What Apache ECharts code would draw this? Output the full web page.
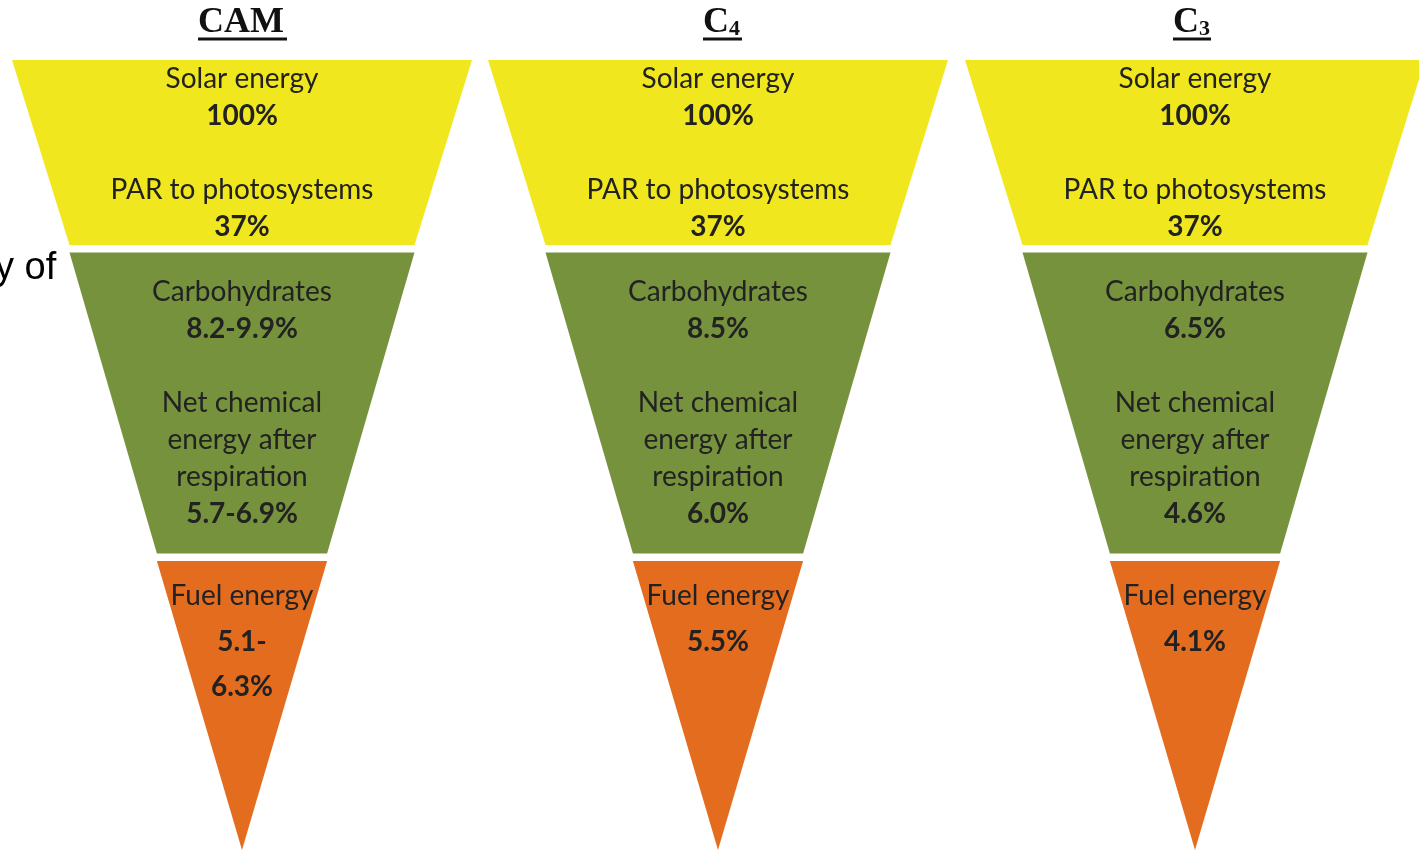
<!DOCTYPE html>
<html>
<head>
<meta charset="utf-8">
<script src="https://cdn.jsdelivr.net/npm/echarts@6/dist/echarts.min.js"></script>
<style>
  html, body { margin: 0; padding: 0; background: #fff; }
  #chart { width: 1419px; height: 851px; }
</style>
</head>
<body>
<div id="chart"></div>
<script>
// photosynthetic pathways (title + subscript)
const pathwayMain = ['CAM', 'C', 'C'];
const pathwaySub = ['', '4', '3'];
// relative width of each band at its top edge (% of funnel top)
const bandWidths = [100, 75, 37];
// figures shown in each funnel
const solarEnergy = ['100%', '100%', '100%'];
const parToPhotosystems = ['37%', '37%', '37%'];
const carbohydrates = ['8.2-9.9%', '8.5%', '6.5%'];
const netChemical = ['5.7-6.9%', '6.0%', '4.6%'];
const fuelEnergy = [['5.1-', '6.3%'], ['5.5%'], ['4.1%']];

const YELLOW = '#f0e71e';
const GREEN = '#76923c';
const ORANGE = '#e46c1f';
const TEXT = '#222';
const FONT = 'Lato, "Open Sans", sans-serif';

const chart = echarts.init(document.getElementById('chart'));

const richText = {
  n: { fontFamily: FONT, fontSize: 28, color: TEXT, lineHeight: 37 },
  b: { fontFamily: FONT, fontSize: 28, fontWeight: 'bold', color: TEXT, lineHeight: 37 },
  o: { fontFamily: FONT, fontSize: 28, color: TEXT, lineHeight: 45.5 },
  ob: { fontFamily: FONT, fontSize: 28, fontWeight: 'bold', color: TEXT, lineHeight: 45.5 }
};

const funnelLefts = [12, 488, 965];

function buildFunnel(i) {
  const fuelLines = ['{o|Fuel energy}'].concat(fuelEnergy[i].map(v => '{ob|' + v + '}'));
  return {
    type: 'funnel',
    left: funnelLefts[i],
    top: 60,
    width: 460,
    height: 790,
    min: 0,
    max: 100,
    minSize: '0%',
    maxSize: '100%',
    sort: 'none',
    gap: 7.5,
    funnelAlign: 'center',
    silent: true,
    labelLine: { show: false },
    itemStyle: { borderWidth: 0 },
    label: {
      show: true,
      position: 'inside',
      color: TEXT,
      fontFamily: FONT,
      fontSize: 28,
      lineHeight: 37,
      rich: richText
    },
    data: [
      {
        name: 'Solar',
        value: bandWidths[0],
        itemStyle: { color: YELLOW, height: 185 },
        label: {
          formatter: [
            '{n|Solar energy}',
            '{b|' + solarEnergy[i] + '}',
            '{n| }',
            '{n|PAR to photosystems}',
            '{b|' + parToPhotosystems[i] + '}'
          ].join('\n')
        }
      },
      {
        name: 'Chemical',
        value: bandWidths[1],
        itemStyle: { color: GREEN, height: 301 },
        label: {
          formatter: [
            '{n|Carbohydrates}',
            '{b|' + carbohydrates[i] + '}',
            '{n| }',
            '{n|Net chemical}',
            '{n|energy after}',
            '{n|respiration}',
            '{b|' + netChemical[i] + '}'
          ].join('\n')
        }
      },
      {
        name: 'Fuel',
        value: bandWidths[2],
        itemStyle: { color: ORANGE, height: 289 },
        label: {
          lineHeight: 45.5,
          // push the text block towards the top of the cone
          padding: [0, 0, 219 - (fuelLines.length - 1) * 45.5, 0],
          formatter: fuelLines.join('\n')
        }
      }
    ]
  };
}

// titles drawn as text + underline
const titleGraphics = [];
const titleLeft = [198, 703, 1173];
const titleRight = [287, 742, 1211];
pathwayMain.forEach((t, i) => {
  titleGraphics.push({
    type: 'text',
    left: titleLeft[i],
    top: 5,
    style: {
      text: t,
      fontFamily: '"Liberation Serif", "Times New Roman", serif',
      fontWeight: 'bold',
      fontSize: 36,
      fill: '#111'
    }
  });
  if (pathwaySub[i]) {
    titleGraphics.push({
      type: 'text',
      left: titleLeft[i] + 26,
      top: 18,
      style: {
        text: pathwaySub[i],
        fontFamily: '"Liberation Serif", "Times New Roman", serif',
        fontWeight: 'bold',
        fontSize: 22,
        fill: '#111'
      }
    });
  }
  titleGraphics.push({
    type: 'line',
    shape: { x1: titleLeft[i], y1: 39, x2: titleRight[i], y2: 39 },
    style: { stroke: '#111', lineWidth: 3 }
  });
});

// fragment of slide text peeking in at the left edge
titleGraphics.push({
  type: 'text',
  left: -5,
  top: 250,
  style: {
    text: 'y of',
    fontFamily: '"Liberation Sans", Arial, sans-serif',
    fontSize: 38,
    fill: '#000'
  }
});

chart.setOption({
  backgroundColor: '#fff',
  animation: false,
  series: [0, 1, 2].map(buildFunnel),
  graphic: titleGraphics
});
</script>
</body>
</html>
